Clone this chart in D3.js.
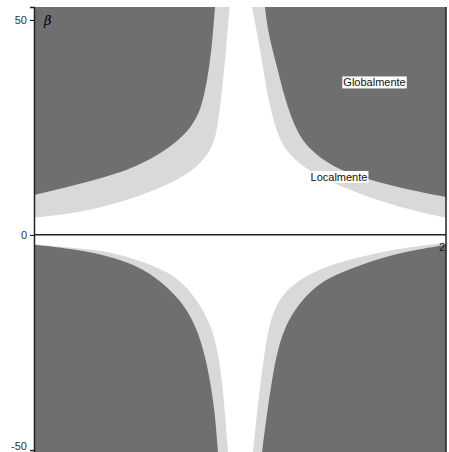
<!DOCTYPE html>
<html>
<head>
<meta charset="utf-8">
<script src="https://cdn.jsdelivr.net/npm/d3@7"></script>
<style>
  body { margin: 0; background: #fff; }
  svg { display: block; font-family: "Liberation Sans", Arial, sans-serif; }
</style>
</head>
<body>
<div id="chart"></div>
<script>
// boundary curves, [x, beta]
// "Localmente" = light band outer edge (white/light), "Globalmente" = dark edge
const ulLocal = [[-2, 4.0], [-1.553, 5.1], [-1.068, 8.1], [-0.65, 12.1], [-0.408, 15.8], [-0.28, 19.8], [-0.225, 23.7], [-0.185, 31.4], [-0.15, 39.1], [-0.122, 47.0], [-0.1, 53.0]]
const ulGlobal = [[-2, 9.3], [-1.388, 12.8], [-1.0, 15.8], [-0.709, 19.8], [-0.515, 23.7], [-0.415, 27.4], [-0.355, 31.4], [-0.295, 39.1], [-0.262, 47.0], [-0.243, 53.0]]
const urLocal = [[0.117, 53.0], [0.165, 47.0], [0.223, 39.1], [0.272, 31.4], [0.359, 23.7], [0.437, 19.8], [0.602, 15.8], [0.893, 12.1], [1.311, 8.1], [1.767, 5.1], [2, 4.0]]
const urGlobal = [[0.243, 53.0], [0.272, 47.0], [0.359, 39.1], [0.437, 31.4], [0.553, 23.7], [0.68, 19.8], [0.893, 15.8], [1.243, 12.8], [1.631, 10.5], [2, 8.8]]
const llLocal = [[-2, -2.2], [-1.718, -2.8], [-1.388, -3.5], [-1.068, -5.1], [-0.748, -8.1], [-0.583, -10.5], [-0.417, -15.1], [-0.291, -20.5], [-0.223, -26.0], [-0.175, -33.7], [-0.146, -41.4], [-0.117, -50.5]]
const llGlobal = [[-2, -2.3], [-1.718, -3.0], [-1.388, -4.2], [-1.068, -6.5], [-0.903, -8.6], [-0.748, -11.2], [-0.583, -15.1], [-0.456, -19.8], [-0.359, -26.0], [-0.291, -33.7], [-0.243, -41.4], [-0.214, -50.5]]
const lrLocal = [[0.126, -50.5], [0.175, -39.1], [0.223, -29.8], [0.272, -22.1], [0.34, -16.7], [0.437, -13.3], [0.602, -9.8], [0.922, -6.5], [1.243, -4.7], [1.573, -3.0], [2, -1.9]]
const lrGlobal = [[0.214, -50.5], [0.262, -41.4], [0.311, -33.7], [0.369, -26.0], [0.466, -19.8], [0.602, -15.1], [0.757, -11.6], [0.922, -9.3], [1.243, -6.3], [1.573, -4.0], [2, -2.3]]

const yTicks = [-50, 0, 50]
const xTickLabel = '2'
const regionLabels = [
  { text: 'Globalmente', x: 1.306, beta: 35.2 },
  { text: 'Localmente', x: 0.961, beta: 13.2 }
]

const width = 449, height = 452
const margin = { top: 7, right: 3, bottom: 0, left: 34 }

const svg = d3.select('#chart').append('svg')
  .attr('width', width).attr('height', height)

const x = d3.scaleLinear([-2, 2], [margin.left, width - margin.right])
const y = d3.scaleLinear([53, -50.5], [margin.top, height - margin.bottom])

svg.append('clipPath').attr('id', 'plot')
  .append('rect')
  .attr('x', x(-2)).attr('y', y(53))
  .attr('width', x(2) - x(-2)).attr('height', y(-50.5) - y(53))

const line = d3.line().x(d => x(d[0])).y(d => y(d[1])).curve(d3.curveBasis)

// region = boundary curve closed through a plot corner
function region(pts, corner) {
  return line(pts) + `L${x(corner[0])},${y(corner[1])}Z`
}

const g = svg.append('g').attr('clip-path', 'url(#plot)')
const light = '#d9d9d9', dark = '#6f6f6f'

const shapes = [
  [ulLocal, [-2, 53], light], [urLocal, [2, 53], light],
  [llLocal, [-2, -50.5], light], [lrLocal, [2, -50.5], light],
  [ulGlobal, [-2, 53], dark], [urGlobal, [2, 53], dark],
  [llGlobal, [-2, -50.5], dark], [lrGlobal, [2, -50.5], dark]
]
g.selectAll('path').data(shapes).join('path')
  .attr('d', d => region(d[0], d[1]))
  .attr('fill', d => d[2])

// zero line
svg.append('line')
  .attr('x1', x(-2)).attr('x2', x(2))
  .attr('y1', y(0)).attr('y2', y(0))
  .attr('stroke', '#222').attr('stroke-width', 1.5)

// right frame
svg.append('line')
  .attr('x1', x(2)).attr('x2', x(2))
  .attr('y1', y(53)).attr('y2', height)
  .attr('stroke', '#222').attr('stroke-width', 1.5)

// left axis
const yAxis = d3.axisLeft(y).tickValues(yTicks).tickSize(4).tickFormat(d => String(d))
const yAxisDraw = svg.append('g')
  .attr('transform', `translate(${x(-2)},0)`)
  .call(yAxis)
yAxisDraw.select('.domain').attr('stroke', '#222').attr('stroke-width', 1.5)
yAxisDraw.selectAll('text').attr('font-size', 11).attr('fill', '#333')
  .attr('font-family', '"Liberation Sans", Arial, sans-serif')
  .attr('dy', d => d === -50 ? '-0.05em' : '0.32em')

svg.append('text')
  .attr('x', x(-2) + 10).attr('y', y(50) + 5)
  .attr('font-size', 13).attr('font-style', 'italic')
  .attr('font-family', '"DejaVu Serif", serif')
  .text('β')

svg.append('text')
  .attr('x', x(2) - 1).attr('y', y(0) + 16)
  .attr('text-anchor', 'end').attr('font-size', 11).attr('fill', '#111')
  .text(xTickLabel)

// labels with white boxes
regionLabels.forEach(l => {
  const t = svg.append('text')
    .attr('x', x(l.x)).attr('y', y(l.beta))
    .attr('text-anchor', 'middle').attr('dominant-baseline', 'middle')
    .attr('font-size', 11).attr('fill', '#111')
    .text(l.text)
  const b = t.node().getBBox()
  svg.insert('rect', () => t.node())
    .attr('x', b.x - 1).attr('y', b.y)
    .attr('width', b.width + 2).attr('height', b.height)
    .attr('fill', '#fff')
})
</script>
</body>
</html>
